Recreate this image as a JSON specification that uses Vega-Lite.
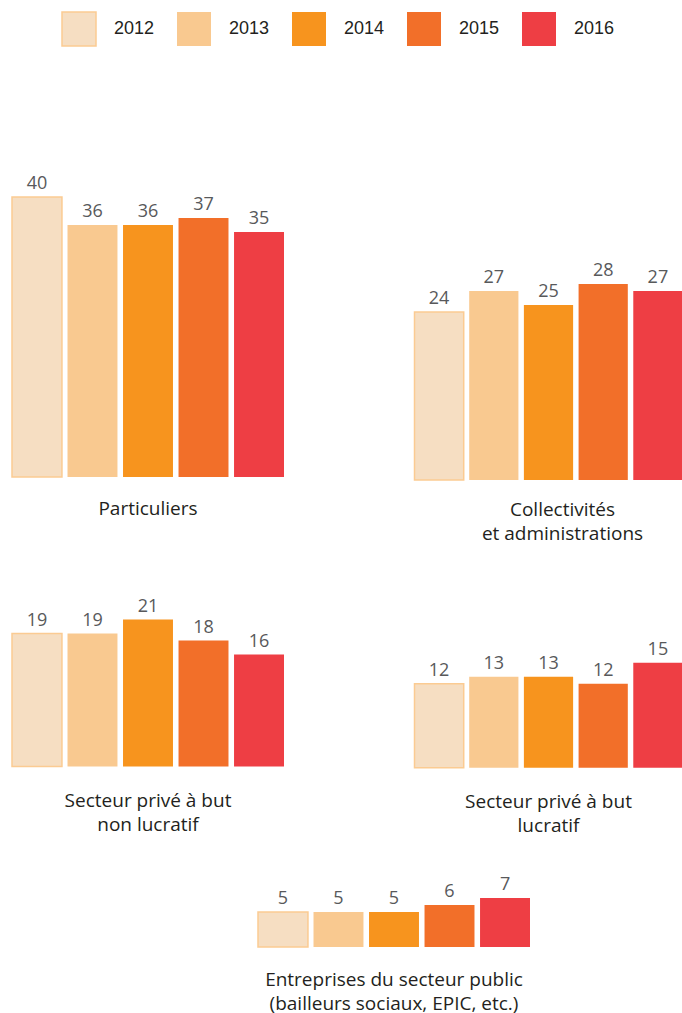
{
  "$schema": "https://vega.github.io/schema/vega-lite/v6.json",
  "autosize": {"type": "pad"},
  "padding": {"left": 11, "top": 11, "right": 0, "bottom": 0},
  "background": "white",
  "data": {
    "values": [
      {"secteur": "Particuliers", "annee": "2012", "valeur": 40},
      {"secteur": "Particuliers", "annee": "2013", "valeur": 36},
      {"secteur": "Particuliers", "annee": "2014", "valeur": 36},
      {"secteur": "Particuliers", "annee": "2015", "valeur": 37},
      {"secteur": "Particuliers", "annee": "2016", "valeur": 35},
      {"secteur": "Collectivités", "annee": "2012", "valeur": 24},
      {"secteur": "Collectivités", "annee": "2013", "valeur": 27},
      {"secteur": "Collectivités", "annee": "2014", "valeur": 25},
      {"secteur": "Collectivités", "annee": "2015", "valeur": 28},
      {"secteur": "Collectivités", "annee": "2016", "valeur": 27},
      {"secteur": "Non lucratif", "annee": "2012", "valeur": 19},
      {"secteur": "Non lucratif", "annee": "2013", "valeur": 19},
      {"secteur": "Non lucratif", "annee": "2014", "valeur": 21},
      {"secteur": "Non lucratif", "annee": "2015", "valeur": 18},
      {"secteur": "Non lucratif", "annee": "2016", "valeur": 16},
      {"secteur": "Lucratif", "annee": "2012", "valeur": 12},
      {"secteur": "Lucratif", "annee": "2013", "valeur": 13},
      {"secteur": "Lucratif", "annee": "2014", "valeur": 13},
      {"secteur": "Lucratif", "annee": "2015", "valeur": 12},
      {"secteur": "Lucratif", "annee": "2016", "valeur": 15},
      {"secteur": "Public", "annee": "2012", "valeur": 5},
      {"secteur": "Public", "annee": "2013", "valeur": 5},
      {"secteur": "Public", "annee": "2014", "valeur": 5},
      {"secteur": "Public", "annee": "2015", "valeur": 6},
      {"secteur": "Public", "annee": "2016", "valeur": 7}
    ]
  },
  "spacing": 38,
  "vconcat": [
    {
      "spacing": 128.5,
      "hconcat": [
        {
          "width": 272, "height": 315,
          "title": {"text": "Particuliers", "offset": 22},
          "transform": [{"filter": "datum.secteur === 'Particuliers'"}],
          "encoding": {
            "x": {"field": "annee", "type": "nominal", "axis": null, "scale": {"paddingInner": 0.1, "paddingOuter": 0}},
            "y": {"field": "valeur", "type": "quantitative", "axis": null, "scale": {"domain": [0, 45], "nice": false}}
          },
          "layer": [
            {
              "mark": {"type": "bar", "strokeWidth": 1.5},
              "encoding": {
                "color": {"field": "annee", "type": "nominal", "title": null,
                  "scale": {"domain": ["2012", "2013", "2014", "2015", "2016"], "range": ["#F6DEC2", "#F9C990", "#F7941E", "#F26F29", "#EE3E44"]},
                  "legend": {"orient": "none", "direction": "horizontal", "legendX": 49, "legendY": -151}},
                "stroke": {"field": "annee", "type": "nominal", "title": null,
                  "scale": {"domain": ["2012", "2013", "2014", "2015", "2016"], "range": ["#FBCB92", "transparent", "transparent", "transparent", "transparent"]}}
              }
            },
            {
              "mark": {"type": "text", "dy": -8, "baseline": "alphabetic", "align": "center", "font": "Open Sans", "fontSize": 18, "color": "#58595B"},
              "encoding": {"text": {"field": "valeur", "type": "quantitative"}}
            }
          ]
        },
        {
          "width": 268, "height": 318,
          "title": {"text": ["Collectivités", "et administrations"], "offset": 20, "dx": 14},
          "transform": [{"filter": "datum.secteur === 'Collectivités'"}],
          "encoding": {
            "x": {"field": "annee", "type": "nominal", "axis": null, "scale": {"paddingInner": 0.1, "paddingOuter": 0}},
            "y": {"field": "valeur", "type": "quantitative", "axis": null, "scale": {"domain": [0, 45.43], "nice": false}}
          },
          "layer": [
            {
              "mark": {"type": "bar", "strokeWidth": 1.5},
              "encoding": {
                "color": {"field": "annee", "type": "nominal", "title": null,
                  "scale": {"domain": ["2012", "2013", "2014", "2015", "2016"], "range": ["#F6DEC2", "#F9C990", "#F7941E", "#F26F29", "#EE3E44"]}},
                "stroke": {"field": "annee", "type": "nominal", "title": null,
                  "scale": {"domain": ["2012", "2013", "2014", "2015", "2016"], "range": ["#FBCB92", "transparent", "transparent", "transparent", "transparent"]}}
              }
            },
            {
              "mark": {"type": "text", "dy": -8, "baseline": "alphabetic", "align": "center", "font": "Open Sans", "fontSize": 18, "color": "#58595B"},
              "encoding": {"text": {"field": "valeur", "type": "quantitative"}}
            }
          ]
        }
      ]
    },
    {
      "spacing": 128.5,
      "hconcat": [
        {
          "width": 272, "height": 184.5,
          "title": {"text": ["Secteur privé à but", "non lucratif"], "offset": 25},
          "transform": [{"filter": "datum.secteur === 'Non lucratif'"}],
          "encoding": {
            "x": {"field": "annee", "type": "nominal", "axis": null, "scale": {"paddingInner": 0.1, "paddingOuter": 0}},
            "y": {"field": "valeur", "type": "quantitative", "axis": null, "scale": {"domain": [0, 26.36], "nice": false}}
          },
          "layer": [
            {
              "mark": {"type": "bar", "strokeWidth": 1.5},
              "encoding": {
                "color": {"field": "annee", "type": "nominal", "title": null,
                  "scale": {"domain": ["2012", "2013", "2014", "2015", "2016"], "range": ["#F6DEC2", "#F9C990", "#F7941E", "#F26F29", "#EE3E44"]}},
                "stroke": {"field": "annee", "type": "nominal", "title": null,
                  "scale": {"domain": ["2012", "2013", "2014", "2015", "2016"], "range": ["#FBCB92", "transparent", "transparent", "transparent", "transparent"]}}
              }
            },
            {
              "mark": {"type": "text", "dy": -8, "baseline": "alphabetic", "align": "center", "font": "Open Sans", "fontSize": 18, "color": "#58595B"},
              "encoding": {"text": {"field": "valeur", "type": "quantitative"}}
            }
          ]
        },
        {
          "width": 268, "height": 185.7,
          "title": {"text": ["Secteur privé à but", "lucratif"], "offset": 25},
          "transform": [{"filter": "datum.secteur === 'Lucratif'"}],
          "encoding": {
            "x": {"field": "annee", "type": "nominal", "axis": null, "scale": {"paddingInner": 0.1, "paddingOuter": 0}},
            "y": {"field": "valeur", "type": "quantitative", "axis": null, "scale": {"domain": [0, 26.53], "nice": false}}
          },
          "layer": [
            {
              "mark": {"type": "bar", "strokeWidth": 1.5},
              "encoding": {
                "color": {"field": "annee", "type": "nominal", "title": null,
                  "scale": {"domain": ["2012", "2013", "2014", "2015", "2016"], "range": ["#F6DEC2", "#F9C990", "#F7941E", "#F26F29", "#EE3E44"]}},
                "stroke": {"field": "annee", "type": "nominal", "title": null,
                  "scale": {"domain": ["2012", "2013", "2014", "2015", "2016"], "range": ["#FBCB92", "transparent", "transparent", "transparent", "transparent"]}}
              }
            },
            {
              "mark": {"type": "text", "dy": -8, "baseline": "alphabetic", "align": "center", "font": "Open Sans", "fontSize": 18, "color": "#58595B"},
              "encoding": {"text": {"field": "valeur", "type": "quantitative"}}
            }
          ]
        }
      ]
    },
    {
      "spacing": 129,
      "hconcat": [
        {
          "width": 116, "height": 40,
          "data": {"values": [{"vide": 0}]},
          "mark": {"type": "point", "opacity": 0}
        },
        {
          "width": 272, "height": 72,
          "title": {"text": ["Entreprises du secteur public", "(bailleurs sociaux, EPIC, etc.)"], "offset": 23},
          "transform": [{"filter": "datum.secteur === 'Public'"}],
          "encoding": {
            "x": {"field": "annee", "type": "nominal", "axis": null, "scale": {"paddingInner": 0.1, "paddingOuter": 0}},
            "y": {"field": "valeur", "type": "quantitative", "axis": null, "scale": {"domain": [0, 10.29], "nice": false}}
          },
          "layer": [
            {
              "mark": {"type": "bar", "strokeWidth": 1.5},
              "encoding": {
                "color": {"field": "annee", "type": "nominal", "title": null,
                  "scale": {"domain": ["2012", "2013", "2014", "2015", "2016"], "range": ["#F6DEC2", "#F9C990", "#F7941E", "#F26F29", "#EE3E44"]}},
                "stroke": {"field": "annee", "type": "nominal", "title": null,
                  "scale": {"domain": ["2012", "2013", "2014", "2015", "2016"], "range": ["#FBCB92", "transparent", "transparent", "transparent", "transparent"]}}
              }
            },
            {
              "mark": {"type": "text", "dy": -8, "baseline": "alphabetic", "align": "center", "font": "Open Sans", "fontSize": 18, "color": "#58595B"},
              "encoding": {"text": {"field": "valeur", "type": "quantitative"}}
            }
          ]
        }
      ]
    }
  ],
  "config": {
    "view": {"stroke": null},
    "title": {"orient": "bottom", "anchor": "middle", "font": "Open Sans", "fontSize": 19, "fontWeight": "normal", "color": "#231F20", "lineHeight": 24, "baseline": "top"},
    "legend": {"symbolType": "square", "symbolSize": 1156, "symbolStrokeWidth": 1.5, "symbolOpacity": 1, "labelFont": "Liberation Sans", "labelFontSize": 18, "labelColor": "#231F20", "labelOffset": 17, "columnPadding": 19, "padding": 0}
  }
}
